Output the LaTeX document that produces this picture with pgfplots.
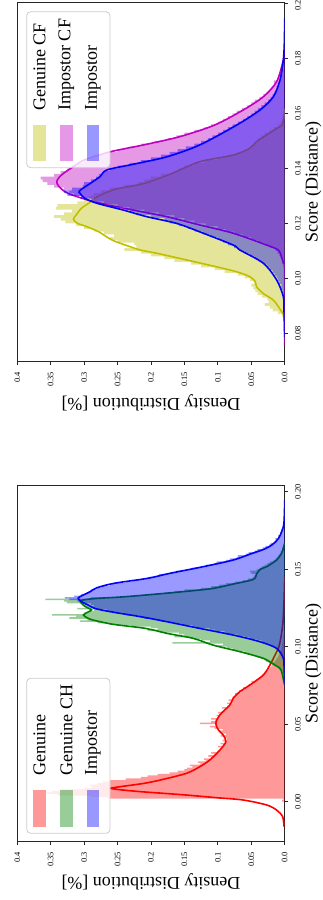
\documentclass[border=0pt]{standalone}
\usepackage{fontspec}
\setmainfont{Liberation Serif}
\usepackage{pgfplots}
\usepackage{pgfplotstable}
\pgfplotsset{compat=1.18}

\definecolor{cR}{RGB}{255,0,0}
\definecolor{cG}{RGB}{0,128,0}
\definecolor{cB}{RGB}{0,0,255}
\definecolor{cM}{RGB}{191,0,191}
\definecolor{cY}{RGB}{191,191,0}
\definecolor{frame}{RGB}{204,204,204}

% ---------- panel 1: Genuine / Genuine CH / Impostor ----------
% histograms: s = left bin edge, d = density (last row closes the last bin)
\pgfplotstableread{
s d
-0.002 0.000
0.000 0.004
0.001 0.002
0.002 0.265
0.003 0.290
0.004 0.340
0.005 0.356
0.006 0.348
0.007 0.335
0.008 0.300
0.009 0.288
0.010 0.292
0.011 0.280
0.012 0.272
0.013 0.262
0.014 0.238
0.015 0.215
0.016 0.205
0.017 0.190
0.018 0.172
0.019 0.160
0.020 0.150
0.021 0.146
0.022 0.138
0.023 0.142
0.024 0.126
0.025 0.130
0.026 0.118
0.027 0.121
0.028 0.110
0.029 0.114
0.030 0.106
0.031 0.110
0.032 0.100
0.033 0.097
0.034 0.094
0.035 0.100
0.036 0.092
0.037 0.096
0.038 0.088
0.039 0.093
0.040 0.086
0.041 0.090
0.042 0.096
0.043 0.088
0.044 0.094
0.045 0.098
0.046 0.092
0.047 0.105
0.048 0.112
0.049 0.104
0.050 0.127
0.051 0.110
0.052 0.104
0.053 0.110
0.054 0.098
0.055 0.102
0.056 0.095
0.057 0.100
0.058 0.092
0.059 0.088
0.060 0.094
0.061 0.086
0.062 0.082
0.063 0.086
0.064 0.080
0.065 0.084
0.066 0.076
0.067 0.078
0.068 0.072
0.069 0.074
0.070 0.066
0.071 0.068
0.072 0.060
0.073 0.062
0.074 0.055
0.075 0.054
0.076 0.048
0.077 0.050
0.078 0.043
0.079 0.040
0.080 0.036
0.081 0.034
0.082 0.031
0.083 0.030
0.084 0.026
0.085 0.024
0.086 0.022
0.087 0.020
0.088 0.018
0.089 0.017
0.090 0.015
0.091 0.013
0.092 0.012
0.093 0.010
0.094 0.009
0.095 0.008
0.096 0.007
0.097 0.006
0.098 0.005
0.099 0.005
0.100 0.004
0.102 0.003
0.104 0.002
0.106 0.002
0.108 0.001
0.110 0.000
}\histGen

\pgfplotstableread{
s d
0.074 0.000
0.076 0.001
0.078 0.002
0.080 0.003
0.082 0.004
0.084 0.006
0.085 0.008
0.086 0.010
0.087 0.014
0.088 0.018
0.089 0.024
0.090 0.028
0.091 0.030
0.092 0.036
0.093 0.040
0.094 0.048
0.095 0.055
0.096 0.060
0.097 0.068
0.098 0.078
0.099 0.086
0.100 0.100
0.101 0.092
0.102 0.168
0.103 0.112
0.104 0.125
0.105 0.140
0.106 0.165
0.107 0.150
0.108 0.158
0.109 0.185
0.110 0.205
0.111 0.190
0.112 0.200
0.113 0.230
0.114 0.262
0.115 0.280
0.116 0.306
0.117 0.295
0.118 0.322
0.119 0.312
0.120 0.348
0.121 0.300
0.122 0.292
0.123 0.285
0.124 0.310
0.125 0.296
0.126 0.285
0.127 0.300
0.128 0.326
0.129 0.330
0.130 0.358
0.131 0.290
0.132 0.230
0.133 0.205
0.134 0.180
0.135 0.165
0.136 0.150
0.137 0.125
0.138 0.110
0.139 0.098
0.140 0.088
0.141 0.075
0.142 0.062
0.143 0.055
0.144 0.048
0.145 0.046
0.146 0.044
0.147 0.050
0.148 0.052
0.149 0.042
0.150 0.038
0.151 0.034
0.152 0.030
0.153 0.026
0.154 0.022
0.155 0.017
0.156 0.014
0.157 0.012
0.158 0.010
0.159 0.008
0.160 0.006
0.162 0.004
0.164 0.002
0.166 0.001
0.168 0.000
}\histGenCH

\pgfplotstableread{
s d
0.088 0.001
0.090 0.002
0.092 0.003
0.094 0.005
0.096 0.008
0.097 0.010
0.098 0.012
0.099 0.015
0.100 0.018
0.101 0.023
0.102 0.030
0.103 0.034
0.104 0.042
0.105 0.052
0.106 0.060
0.107 0.070
0.108 0.088
0.109 0.090
0.110 0.104
0.111 0.112
0.112 0.132
0.113 0.138
0.114 0.155
0.115 0.165
0.116 0.184
0.117 0.190
0.118 0.210
0.119 0.218
0.120 0.236
0.121 0.242
0.122 0.258
0.123 0.266
0.124 0.284
0.125 0.288
0.126 0.298
0.127 0.290
0.128 0.302
0.129 0.310
0.130 0.322
0.131 0.329
0.132 0.315
0.133 0.305
0.134 0.296
0.135 0.292
0.136 0.290
0.137 0.281
0.138 0.275
0.139 0.262
0.140 0.258
0.141 0.238
0.142 0.228
0.143 0.210
0.144 0.204
0.145 0.190
0.146 0.188
0.147 0.170
0.148 0.162
0.149 0.146
0.150 0.138
0.151 0.122
0.152 0.118
0.153 0.105
0.154 0.102
0.155 0.088
0.156 0.082
0.157 0.072
0.158 0.070
0.159 0.058
0.160 0.054
0.161 0.045
0.162 0.041
0.163 0.033
0.164 0.029
0.165 0.023
0.166 0.021
0.167 0.016
0.168 0.014
0.170 0.010
0.172 0.007
0.174 0.005
0.176 0.003
0.178 0.002
0.180 0.001
0.184 0.000
}\histImpA

% kernel density curves
\pgfplotstableread{
s d
-0.0161 0.0010
-0.0097 0.0030
-0.0054 0.0120
-0.0021 0.0270
0.0011 0.0620
0.0026 0.1020
0.0043 0.1470
0.0054 0.1810
0.0065 0.2160
0.0075 0.2410
0.0086 0.2600
0.0097 0.2460
0.0118 0.2110
0.0140 0.1860
0.0183 0.1470
0.0226 0.1270
0.0269 0.1120
0.0333 0.0970
0.0387 0.0880
0.0430 0.0920
0.0462 0.0990
0.0506 0.1030
0.0560 0.0970
0.0624 0.0820
0.0667 0.0770
0.0710 0.0670
0.0753 0.0520
0.0817 0.0320
0.0882 0.0220
0.0946 0.0145
0.1010 0.0080
0.1140 0.0030
0.1300 0.0010
0.1450 0.0000
}\kdeGen

\pgfplotstableread{
s d
0.0753 0.0000
0.0790 0.0020
0.0830 0.0040
0.0860 0.0070
0.0893 0.0190
0.0925 0.0320
0.0968 0.0670
0.1010 0.1070
0.1054 0.1370
0.1086 0.1760
0.1118 0.2080
0.1144 0.2560
0.1170 0.2850
0.1183 0.2940
0.1204 0.3010
0.1222 0.2950
0.1237 0.2890
0.1258 0.2980
0.1280 0.3040
0.1298 0.3050
0.1310 0.2850
0.1322 0.2400
0.1340 0.1900
0.1360 0.1400
0.1376 0.1070
0.1404 0.0770
0.1434 0.0470
0.1470 0.0420
0.1500 0.0360
0.1516 0.0270
0.1559 0.0120
0.1600 0.0050
0.1634 0.0020
0.1668 0.0000
}\kdeGenCH

\pgfplotstableread{
s d
0.0753 0.0000
0.0880 0.0010
0.0925 0.0020
0.0989 0.0120
0.1032 0.0370
0.1075 0.0770
0.1118 0.1270
0.1161 0.1760
0.1193 0.2150
0.1226 0.2610
0.1247 0.2840
0.1269 0.2940
0.1290 0.3040
0.1312 0.3090
0.1325 0.3050
0.1355 0.2910
0.1380 0.2810
0.1409 0.2550
0.1441 0.2050
0.1473 0.1720
0.1516 0.1220
0.1559 0.0770
0.1600 0.0500
0.1630 0.0300
0.1660 0.0180
0.1700 0.0090
0.1774 0.0020
0.1850 0.0005
0.1946 0.0000
}\kdeImpA

% ---------- panel 2: Genuine CF / Impostor CF / Impostor ----------
\pgfplotstableread{
s d
0.084 0.000
0.085 0.002
0.086 0.004
0.087 0.010
0.088 0.018
0.089 0.022
0.090 0.030
0.091 0.024
0.092 0.026
0.093 0.034
0.094 0.040
0.095 0.044
0.096 0.047
0.097 0.050
0.098 0.046
0.099 0.052
0.100 0.060
0.101 0.070
0.102 0.090
0.103 0.105
0.104 0.125
0.105 0.140
0.106 0.165
0.107 0.180
0.108 0.200
0.109 0.215
0.110 0.240
0.111 0.222
0.112 0.225
0.113 0.250
0.114 0.262
0.115 0.255
0.116 0.270
0.117 0.285
0.118 0.300
0.119 0.312
0.120 0.328
0.121 0.335
0.122 0.345
0.123 0.330
0.124 0.318
0.125 0.342
0.126 0.340
0.127 0.310
0.128 0.300
0.129 0.292
0.130 0.286
0.131 0.275
0.132 0.262
0.133 0.240
0.134 0.220
0.135 0.210
0.136 0.200
0.137 0.185
0.138 0.165
0.139 0.158
0.140 0.150
0.141 0.135
0.142 0.120
0.143 0.100
0.144 0.085
0.145 0.070
0.146 0.060
0.147 0.052
0.148 0.048
0.149 0.044
0.150 0.040
0.151 0.035
0.152 0.030
0.153 0.022
0.154 0.016
0.155 0.010
0.156 0.006
0.157 0.004
0.158 0.002
0.160 0.001
0.162 0.000
}\histGenCF

\pgfplotstableread{
s d
0.100 0.000
0.102 0.001
0.104 0.002
0.106 0.004
0.107 0.006
0.108 0.008
0.109 0.011
0.110 0.014
0.111 0.022
0.112 0.030
0.113 0.040
0.114 0.050
0.115 0.062
0.116 0.075
0.117 0.088
0.118 0.100
0.119 0.118
0.120 0.135
0.121 0.150
0.122 0.165
0.123 0.188
0.124 0.210
0.125 0.232
0.126 0.250
0.127 0.270
0.128 0.285
0.129 0.300
0.130 0.315
0.131 0.322
0.132 0.330
0.133 0.345
0.134 0.355
0.135 0.362
0.136 0.365
0.137 0.345
0.138 0.335
0.139 0.325
0.140 0.318
0.141 0.310
0.142 0.300
0.143 0.292
0.144 0.285
0.145 0.268
0.146 0.250
0.147 0.232
0.148 0.215
0.149 0.195
0.150 0.175
0.151 0.162
0.152 0.150
0.153 0.135
0.154 0.120
0.155 0.110
0.156 0.100
0.157 0.092
0.158 0.085
0.159 0.078
0.160 0.072
0.161 0.064
0.162 0.056
0.163 0.050
0.164 0.045
0.165 0.038
0.166 0.032
0.167 0.027
0.168 0.022
0.169 0.019
0.170 0.016
0.172 0.010
0.174 0.007
0.176 0.004
0.178 0.002
0.180 0.001
0.182 0.000
}\histImpCF

\pgfplotstableread{
s d
0.090 0.001
0.092 0.002
0.094 0.003
0.096 0.005
0.098 0.008
0.099 0.010
0.100 0.012
0.101 0.015
0.102 0.018
0.103 0.022
0.104 0.026
0.105 0.032
0.106 0.038
0.107 0.045
0.108 0.052
0.109 0.060
0.110 0.068
0.111 0.076
0.112 0.085
0.113 0.092
0.114 0.100
0.115 0.112
0.116 0.122
0.117 0.134
0.118 0.145
0.119 0.158
0.120 0.172
0.121 0.180
0.122 0.200
0.123 0.222
0.124 0.232
0.125 0.240
0.126 0.262
0.127 0.282
0.128 0.290
0.129 0.305
0.130 0.325
0.131 0.330
0.132 0.318
0.133 0.302
0.134 0.300
0.135 0.290
0.136 0.282
0.137 0.278
0.138 0.272
0.139 0.262
0.140 0.250
0.141 0.232
0.142 0.215
0.143 0.200
0.144 0.185
0.145 0.172
0.146 0.160
0.147 0.148
0.148 0.135
0.149 0.125
0.150 0.115
0.151 0.108
0.152 0.100
0.153 0.092
0.154 0.085
0.155 0.078
0.156 0.070
0.157 0.062
0.158 0.056
0.159 0.050
0.160 0.045
0.161 0.040
0.162 0.035
0.163 0.030
0.164 0.025
0.165 0.021
0.166 0.018
0.167 0.015
0.168 0.012
0.170 0.008
0.172 0.006
0.174 0.004
0.176 0.002
0.178 0.001
0.182 0.000
}\histImpB

\pgfplotstableread{
s d
0.0865 0.0000
0.0870 0.0020
0.0897 0.0095
0.0921 0.0170
0.0945 0.0320
0.0969 0.0420
0.0988 0.0440
0.1006 0.0520
0.1024 0.0720
0.1042 0.1020
0.1067 0.1470
0.1091 0.1910
0.1103 0.2160
0.1115 0.2310
0.1139 0.2580
0.1169 0.2780
0.1188 0.2960
0.1200 0.3100
0.1215 0.3160
0.1230 0.3120
0.1255 0.3040
0.1275 0.2920
0.1297 0.2800
0.1324 0.2530
0.1345 0.2100
0.1380 0.1700
0.1424 0.1270
0.1448 0.0770
0.1473 0.0520
0.1497 0.0420
0.1521 0.0270
0.1545 0.0120
0.1557 0.0040
0.1590 0.0010
0.1615 0.0000
}\kdeGenCF

\pgfplotstableread{
s d
0.0757 0.0000
0.1033 0.0000
0.1055 0.0020
0.1080 0.0050
0.1103 0.0095
0.1121 0.0270
0.1164 0.0770
0.1194 0.1270
0.1224 0.1760
0.1248 0.2260
0.1267 0.2650
0.1285 0.2950
0.1310 0.3250
0.1335 0.3380
0.1352 0.3410
0.1368 0.3370
0.1385 0.3290
0.1406 0.3160
0.1430 0.3000
0.1460 0.2610
0.1485 0.2110
0.1515 0.1570
0.1557 0.1050
0.1612 0.0620
0.1660 0.0320
0.1715 0.0120
0.1794 0.0020
0.1830 0.0000
}\kdeImpCF

\pgfplotstableread{
s d
0.0787 0.0000
0.0880 0.0010
0.0933 0.0020
0.0994 0.0120
0.1055 0.0320
0.1103 0.0670
0.1121 0.0770
0.1169 0.1270
0.1200 0.1620
0.1224 0.2060
0.1248 0.2410
0.1273 0.2810
0.1291 0.2990
0.1309 0.3060
0.1318 0.3070
0.1345 0.2910
0.1370 0.2760
0.1394 0.2660
0.1415 0.2260
0.1442 0.1760
0.1485 0.1270
0.1557 0.0720
0.1612 0.0370
0.1660 0.0170
0.1721 0.0070
0.1794 0.0020
0.1860 0.0005
0.1945 0.0000
}\kdeImpB

\pgfplotsset{
  distpanel/.style={
    scale only axis, width=133.7pt,
    xmin=0, xmax=0.4, x dir=reverse,
    xtick={0,0.05,0.1,0.15,0.2,0.25,0.3,0.35,0.4},
    xticklabels={0.0,0.05,0.1,0.15,0.2,0.25,0.3,0.35,0.4},
    tick align=outside,
    xtick pos=left, ytick pos=right,
    xticklabel pos=left, yticklabel pos=right,
    major tick length=1.7pt,
    every tick/.style={black!85, line width=0.4pt},
    axis line style={black!85, line width=0.5pt},
    tick label style={font=\fontsize{4.2}{5}\selectfont},
    xticklabel style={rotate=90, anchor=east},
    yticklabel style={rotate=90, anchor=north},
    label style={font=\fontsize{9}{11}\selectfont},
    xlabel={Density Distribution [\%]},
    ylabel={Score (Distance)},
    xlabel style={at={(axis description cs:0.5,-0.1135)}, anchor=center, rotate=180},
    ylabel style={at={(axis description cs:1.107,0.5)}, anchor=center},
  },
  hist/.style={xbar interval, draw=none, fill=#1, fill opacity=0.4},
  kde/.style={smooth, line width=0.8pt, color=#1, mark=none},
}

\begin{document}
\begin{tikzpicture}
% upper panel (CF)
\begin{axis}[distpanel, at={(8.65pt,-1.35pt)}, anchor=north west,
  height=179.5pt, ymin=0.0697, ymax=0.2002,
  ytick={0.08,0.10,0.12,0.14,0.16,0.18,0.20},
  yticklabels={0.08,0.10,0.12,0.14,0.16,0.18,0.20}]
  \addplot[hist=cY] table[x=d, y=s] {\histGenCF};
  \addplot[kde=cY] table[x=d, y=s] {\kdeGenCF};
  \addplot[hist=cM] table[x=d, y=s] {\histImpCF};
  \addplot[kde=cM] table[x=d, y=s] {\kdeImpCF};
  \addplot[hist=cB] table[x=d, y=s] {\histImpB};
  \addplot[kde=cB] table[x=d, y=s] {\kdeImpB};
\end{axis}
% lower panel
\begin{axis}[distpanel, at={(8.65pt,-242.5pt)}, anchor=north west,
  height=178.35pt, ymin=-0.0258, ymax=0.2043,
  ytick={0,0.05,0.10,0.15,0.20},
  yticklabels={0.00,0.05,0.10,0.15,0.20}]
  \addplot[hist=cR] table[x=d, y=s] {\histGen};
  \addplot[kde=cR] table[x=d, y=s] {\kdeGen};
  \addplot[hist=cG] table[x=d, y=s] {\histGenCH};
  \addplot[kde=cG] table[x=d, y=s] {\kdeGenCH};
  \addplot[hist=cB] table[x=d, y=s] {\histImpA};
  \addplot[kde=cB] table[x=d, y=s] {\kdeImpA};
\end{axis}

% legend boxes
\begin{scope}[font=\fontsize{9}{11}\selectfont]
  % upper panel
  \filldraw[draw=frame, line width=0.4pt, fill=white, fill opacity=0.8, rounded corners=2pt]
    (13.35pt,-5.85pt) rectangle (55pt,-83.85pt);
  \fill[cY, fill opacity=0.4] (16.65pt,-62.65pt) rectangle (22.85pt,-80.65pt);
  \fill[cM, fill opacity=0.4] (30pt,-62.65pt) rectangle (36.35pt,-80.65pt);
  \fill[cB, fill opacity=0.4] (43.35pt,-62.65pt) rectangle (49.5pt,-80.65pt);
  \node[rotate=90, anchor=west, inner sep=0pt] at (19.75pt,-55.45pt) {Genuine CF};
  \node[rotate=90, anchor=west, inner sep=0pt] at (33.2pt,-55.45pt) {Impostor CF};
  \node[rotate=90, anchor=west, inner sep=0pt] at (46.4pt,-55.45pt) {Impostor};
  % lower panel
  \filldraw[draw=frame, line width=0.4pt, fill=white, fill opacity=0.8, rounded corners=2pt]
    (13.35pt,-339.15pt) rectangle (55pt,-416.65pt);
  \fill[cR, fill opacity=0.4] (16.65pt,-395pt) rectangle (22.85pt,-413.35pt);
  \fill[cG, fill opacity=0.4] (30pt,-395pt) rectangle (36.35pt,-413.35pt);
  \fill[cB, fill opacity=0.4] (43.35pt,-395pt) rectangle (49.5pt,-413.35pt);
  \node[rotate=90, anchor=west, inner sep=0pt] at (19.75pt,-387.8pt) {Genuine};
  \node[rotate=90, anchor=west, inner sep=0pt] at (33.2pt,-387.8pt) {Genuine CH};
  \node[rotate=90, anchor=west, inner sep=0pt] at (46.4pt,-387.8pt) {Impostor};
\end{scope}

\pgfresetboundingbox
\path[use as bounding box] (0pt,0pt) rectangle (161pt,-450pt);
\end{tikzpicture}
\end{document}
